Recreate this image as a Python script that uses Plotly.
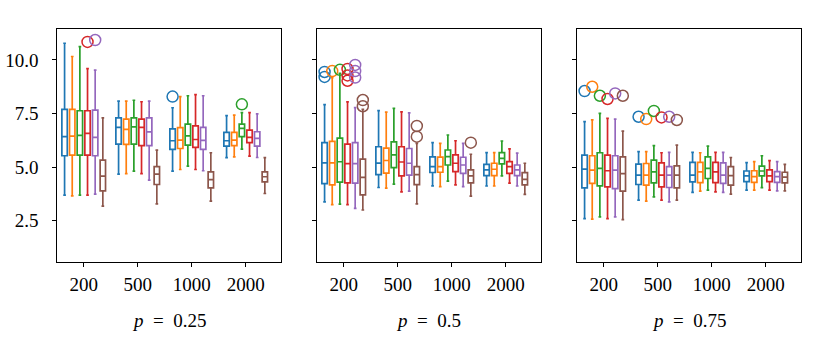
import plotly.graph_objects as go
from plotly.subplots import make_subplots

# sample sizes on the x axis, one group of six boxes each
GROUPS = ["200", "500", "1000", "2000"]
PANEL_LABELS = ["<i>p</i>&nbsp; =&nbsp; 0.25", "<i>p</i>&nbsp; =&nbsp; 0.5", "<i>p</i>&nbsp; =&nbsp; 0.75"]
COLORS = ["#1f77b4", "#ff7f0e", "#2ca02c", "#d62728", "#9467bd", "#8c564b"]

# rows = series (blue, orange, green, red, purple, brown), cols = groups
lo_025 = [[3.69, 4.67, 4.81, 5.44], [3.66, 4.70, 4.89, 5.48], [3.69, 4.81, 5.05, 5.84],
          [3.69, 4.70, 4.89, 5.51], [3.74, 4.39, 4.83, 5.45], [3.18, 3.29, 3.41, 3.77]]
q1_025 = [[5.53, 6.07, 5.83, 5.98], [5.56, 6.06, 5.87, 6.00], [5.56, 6.07, 6.03, 6.42],
          [5.56, 6.00, 5.92, 6.14], [5.53, 6.00, 5.83, 5.98], [3.89, 4.19, 4.03, 4.31]]
med_025 = [[6.42, 6.85, 6.23, 6.23], [6.45, 6.76, 6.26, 6.26], [6.48, 6.88, 6.46, 6.81],
           [6.57, 6.85, 6.29, 6.39], [6.39, 6.64, 6.25, 6.34], [4.58, 4.67, 4.42, 4.55]]
q3_025 = [[7.69, 7.30, 6.78, 6.62], [7.69, 7.24, 6.84, 6.62], [7.63, 7.30, 7.01, 7.01],
          [7.63, 7.24, 6.92, 6.73], [7.66, 7.30, 6.85, 6.65], [5.33, 5.02, 4.78, 4.78]]
hi_025 = [[10.78, 8.08, 7.77, 7.40], [10.16, 8.08, 8.29, 7.43], [10.62, 8.12, 8.33, 7.54],
          [9.60, 8.05, 8.38, 7.54], [9.53, 8.08, 8.33, 7.48], [7.30, 5.79, 5.67, 5.44]]
out_025_series = [3, 4, 0, 2]
out_025_group = [0, 0, 2, 3]
out_025_value = [10.84, 10.93, 8.29, 7.93]

lo_050 = [[3.38, 4.05, 4.13, 4.12], [3.25, 4.02, 4.09, 4.12], [3.27, 4.21, 4.35, 4.59],
          [3.25, 3.85, 4.17, 4.25], [3.08, 3.88, 4.09, 4.12], [3.00, 3.29, 3.65, 3.73]]
q1_050 = [[4.23, 4.65, 4.75, 4.60], [4.17, 4.72, 4.76, 4.60], [4.30, 4.98, 5.10, 5.15],
          [4.27, 4.59, 4.79, 4.71], [4.25, 4.63, 4.71, 4.60], [3.71, 4.18, 4.27, 4.17]]
med_050 = [[5.20, 5.19, 5.02, 4.87], [5.20, 5.31, 5.02, 4.90], [5.25, 5.57, 5.49, 5.41],
           [5.16, 5.24, 5.18, 5.02], [5.16, 5.18, 5.10, 4.87], [4.52, 4.65, 4.59, 4.43]]
q3_050 = [[6.14, 5.95, 5.48, 5.13], [6.20, 5.89, 5.47, 5.18], [6.35, 6.18, 5.80, 5.68],
          [6.07, 5.95, 5.57, 5.26], [6.14, 5.87, 5.46, 5.10], [5.37, 5.02, 4.87, 4.74]]
hi_050 = [[7.92, 7.64, 6.14, 5.68], [9.18, 7.57, 6.11, 5.68], [9.38, 7.74, 6.50, 6.22],
          [8.04, 7.58, 6.23, 5.85], [7.78, 7.53, 6.11, 5.65], [7.70, 6.11, 5.60, 5.18]]
out_050_series = [0, 0, 1, 2, 3, 3, 3, 4, 4, 4, 5, 5, 5, 5, 5]
out_050_group = [0, 0, 0, 0, 0, 0, 0, 0, 0, 0, 0, 0, 1, 1, 2]
out_050_value = [9.44, 9.21, 9.48, 9.54, 9.58, 9.28, 9.03, 9.77, 9.48, 9.18,
                 8.13, 7.84, 6.92, 6.42, 6.14]

lo_075 = [[2.60, 3.46, 3.82, 3.93], [2.57, 3.41, 3.88, 3.93], [2.68, 3.61, 3.93, 4.04],
          [2.60, 3.46, 3.85, 3.93], [2.68, 3.38, 3.82, 3.89], [2.55, 3.46, 3.74, 3.89]]
q1_075 = [[4.03, 4.19, 4.31, 4.32], [4.24, 4.16, 4.28, 4.29], [4.13, 4.27, 4.47, 4.59],
          [4.08, 4.08, 4.28, 4.32], [4.00, 4.05, 4.24, 4.29], [3.88, 4.03, 4.16, 4.27]]
med_075 = [[4.91, 4.63, 4.63, 4.59], [4.86, 4.63, 4.78, 4.56], [4.94, 4.78, 4.94, 4.82],
           [4.83, 4.63, 4.78, 4.59], [4.86, 4.63, 4.63, 4.56], [4.70, 4.63, 4.60, 4.53]]
q3_075 = [[5.56, 5.14, 5.22, 4.82], [5.53, 5.17, 5.22, 4.83], [5.67, 5.33, 5.48, 5.05],
          [5.56, 5.20, 5.22, 4.87], [5.53, 5.02, 5.20, 4.79], [5.48, 5.06, 5.02, 4.76]]
hi_075 = [[7.12, 5.72, 5.69, 5.21], [7.20, 5.72, 5.67, 5.26], [7.51, 6.00, 5.98, 5.53],
          [7.27, 5.67, 5.69, 5.30], [7.24, 5.69, 5.69, 5.26], [6.68, 6.03, 5.45, 5.13]]
out_075_series = [0, 1, 2, 3, 4, 5, 0, 1, 2, 3, 4, 5]
out_075_group = [0, 0, 0, 0, 0, 0, 1, 1, 1, 1, 1, 1]
out_075_value = [8.55, 8.75, 8.33, 8.18, 8.44, 8.33, 7.35, 7.24, 7.62, 7.32, 7.35, 7.20]

panels = [
    (lo_025, q1_025, med_025, q3_025, hi_025, out_025_series, out_025_group, out_025_value),
    (lo_050, q1_050, med_050, q3_050, hi_050, out_050_series, out_050_group, out_050_value),
    (lo_075, q1_075, med_075, q3_075, hi_075, out_075_series, out_075_group, out_075_value),
]

W, H = 830, 346
FONT = "Liberation Serif"
STEP = 0.85 / 6  # spacing of the six boxes inside a group


def offset(i):
    return (i - 2.5) * STEP


fig = make_subplots(rows=1, cols=3, shared_yaxes=True)

for k, (lo, q1, med, q3, hi, o_s, o_g, o_v) in enumerate(panels):
    for i, color in enumerate(COLORS):
        xs = [g + 1 + offset(i) for g in range(len(GROUPS))]
        fig.add_trace(go.Box(
            x=xs, q1=q1[i], median=med[i], q3=q3[i],
            lowerfence=lo[i], upperfence=hi[i],
            width=0.1, whiskerwidth=0.5,
            line=dict(color=color, width=1.7),
            fillcolor="white", boxpoints=False,
            showlegend=False, hoverinfo="skip"
        ), row=1, col=k + 1)
    for i, color in enumerate(COLORS):
        ox = [g + 1 + offset(s) for s, g in zip(o_s, o_g) if s == i]
        oy = [v for s, v in zip(o_s, o_v) if s == i]
        if not ox:
            continue
        fig.add_trace(go.Scatter(
            x=ox, y=oy, mode="markers",
            marker=dict(symbol="circle-open", size=11, color=color,
                        line=dict(width=1.5)),
            showlegend=False, hoverinfo="skip"
        ), row=1, col=k + 1)

# panel boxes, measured in pixels from the reference
x_domains = [(57.3, 280.7), (317.3, 540.7), (577.3, 800.7)]
y_top, y_bot = 29.3, 262.3

for k, (x0, x1) in enumerate(x_domains):
    sfx = "" if k == 0 else str(k + 1)
    fig.layout["xaxis" + sfx].update(
        domain=[x0 / W, x1 / W], range=[0.511, 4.648], automargin=False,
        tickvals=[1, 2, 3, 4], ticktext=GROUPS,
        showgrid=False, zeroline=False,
        showline=True, linecolor="black", linewidth=1.2, mirror=True,
        ticks="outside", ticklen=4, tickwidth=1.2, tickcolor="black",
        ticklabelstandoff=1,
        tickfont=dict(family=FONT, size=19, color="black"),
    )
    fig.layout["yaxis" + sfx].update(
        domain=[1 - y_bot / H, 1 - y_top / H], range=[0.56, 11.43], automargin=False,
        tickvals=[2.5, 5.0, 7.5, 10.0], tickformat=".1f",
        showticklabels=(k == 0),
        showgrid=False, zeroline=False,
        showline=True, linecolor="black", linewidth=1.2, mirror=True,
        ticks="outside", ticklen=4, tickwidth=1.2, tickcolor="black",
        ticklabelstandoff=10,
        tickfont=dict(family=FONT, size=19, color="black"),
    )
    fig.add_annotation(
        x=(x0 + x1) / 2 / W, y=1 - 320 / H, xref="paper", yref="paper",
        text=PANEL_LABELS[k], showarrow=False,
        xanchor="center", yanchor="middle",
        font=dict(family=FONT, size=19, color="black"),
    )

fig.update_layout(
    width=W, height=H,
    margin=dict(l=0, r=0, t=0, b=0),
    plot_bgcolor="white", paper_bgcolor="white",
    boxmode="overlay",
)

# drop the page's default body margin so the figure sits at (0, 0)
fig.write_html("out.html", config={"displayModeBar": False},
               post_script="document.body.style.margin = '0';")
